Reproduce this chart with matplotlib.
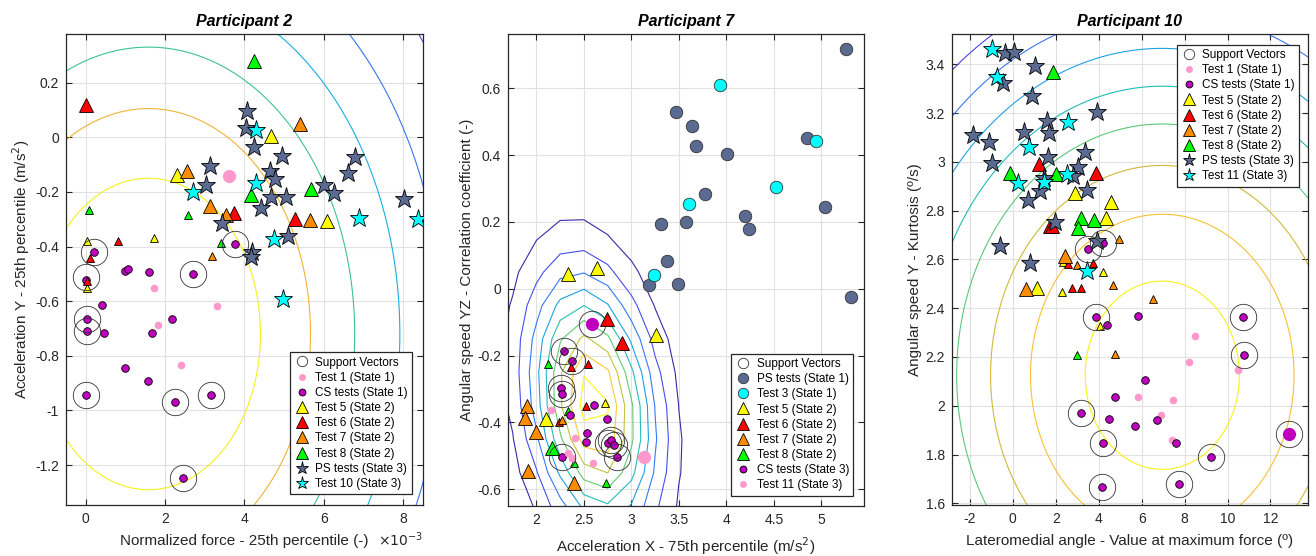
import numpy as np
import matplotlib
matplotlib.use('Agg')
import matplotlib.pyplot as plt
from matplotlib.colors import LinearSegmentedColormap
from matplotlib.ticker import FuncFormatter, FixedLocator

plt.rcParams['font.family'] = ['Liberation Sans', 'DejaVu Sans']
plt.rcParams['axes.unicode_minus'] = False

# ---------------- colours ----------------
C_YEL = '#ffff00'
C_RED = '#ff0000'
C_ORA = '#ff8c00'
C_GRN = '#00ff00'
C_SLATE = '#5a6a90'
C_CYAN = '#00ffff'
C_PURP = '#bf00bf'
C_PINK = '#ff99cc'
PARULA8 = ['#3e26a8', '#4852f4', '#2d87f7', '#11b1d6', '#37c897',
           '#abc739', '#fec338', '#f9fb14']
parula = LinearSegmentedColormap.from_list('parula', PARULA8)
P1_CONTOUR_COLORS = ['#4c4ce6', '#3a74f5', '#16aee0', '#3cc38f', '#f0b435',
                     '#f5f01e']
P3_CONTOUR_COLORS = ['#4a46e0', '#3a78f5', '#1ea2e6', '#1fbcb8', '#5cc87c',
                     '#d2b93a', '#f8c132', '#f7f21c']

# ================= Participant 2 (x in units of 1e-3) =================
P1_T1_X = [1.73, 3.30, 1.81, 2.40]
P1_T1_Y = [-0.552, -0.617, -0.686, -0.834]
P1_T1B_X = [3.60]
P1_T1B_Y = [-0.143]
P1_CS_X = [0.21, 3.77, 0.99, 1.07, 1.59, 2.71, 0.00, 0.41, 0.02, 2.17, 0.02,
           0.46, 1.66, 1.00, 1.56, 0.00, 2.24, 3.16, 2.45]
P1_CS_Y = [-0.421, -0.390, -0.490, -0.482, -0.494, -0.500, -0.521, -0.613,
           -0.665, -0.665, -0.708, -0.716, -0.717, -0.845, -0.893, -0.944,
           -0.968, -0.944, -1.249]
P1_SV_X = [0.21, 3.77, 0.00, 2.71, 0.02, 0.02, 0.00, 2.24, 3.16, 2.45]
P1_SV_Y = [-0.421, -0.390, -0.510, -0.500, -0.665, -0.708, -0.944, -0.968,
           -0.944, -1.249]
P1_T5_X = [4.66, 2.31, 6.08]
P1_T5_Y = [0.004, -0.137, -0.307]
P1_T6_X = [0.00, 3.73, 5.27]
P1_T6_Y = [0.117, -0.278, -0.298]
P1_T7_X = [5.40, 2.55, 3.12, 3.53, 5.65]
P1_T7_Y = [0.048, -0.124, -0.253, -0.286, -0.302]
P1_T8_X = [4.25, 4.17, 5.67]
P1_T8_Y = [0.279, -0.210, -0.188]
P1_T5S_X = [0.02, 1.72, 0.02]
P1_T5S_Y = [-0.380, -0.370, -0.552]
P1_T6S_X = [0.82, 0.10, 0.02]
P1_T6S_Y = [-0.378, -0.443, -0.525]
P1_T7S_X = [3.18]
P1_T7S_Y = [-0.435]
P1_T8S_X = [0.08, 2.57, 3.41]
P1_T8S_Y = [-0.265, -0.284, -0.386]
P1_PS_X = [4.07, 4.03, 4.24, 4.95, 3.14, 3.03, 4.64, 4.78, 4.66, 5.04, 4.41,
           3.44, 6.01, 6.26, 6.78, 6.60, 8.01, 5.10, 4.19, 4.17]
P1_PS_Y = [0.095, 0.034, -0.035, -0.070, -0.105, -0.174, -0.125, -0.154,
           -0.219, -0.219, -0.259, -0.314, -0.176, -0.204, -0.072, -0.131,
           -0.225, -0.362, -0.420, -0.440]
P1_T10_X = [4.30, 4.28, 2.69, 6.89, 8.37, 4.74, 4.98]
P1_T10_Y = [0.028, -0.168, -0.200, -0.295, -0.298, -0.374, -0.592]
# decision-surface model (elliptic distance) and contour radii
P1_CENTER = (1.58, -0.72)
P1_XRATIO = 4.95
P1_RADII = [0.57, 0.825, 1.05, 1.28, 1.50, 1.76]

# ================= Participant 7 =================
P2_PS_X = [5.256, 3.466, 3.638, 3.677, 4.01, 4.849, 3.78, 5.035, 4.20, 4.238,
           3.31, 3.57, 3.37, 3.19, 3.49, 5.31]
P2_PS_Y = [0.716, 0.528, 0.488, 0.426, 0.404, 0.451, 0.284, 0.245, 0.219,
           0.179, 0.195, 0.200, 0.083, 0.012, 0.015, -0.025]
P2_T3_X = [3.93, 4.94, 4.52, 3.61, 3.24]
P2_T3_Y = [0.609, 0.441, 0.304, 0.254, 0.042]
P2_T5_X = [2.33, 2.64, 3.26, 2.10]
P2_T5_Y = [0.045, 0.062, -0.138, -0.390]
P2_T6_X = [2.74, 2.90]
P2_T6_Y = [-0.091, -0.161]
P2_T7_X = [1.90, 1.88, 2.00, 1.91, 2.39]
P2_T7_Y = [-0.350, -0.387, -0.429, -0.545, -0.582]
P2_T8_X = [2.16]
P2_T8_Y = [-0.477]
P2_T5S_X = [2.72]
P2_T5S_Y = [-0.342]
P2_T6S_X = [2.36, 2.54, 2.52, 2.24]
P2_T6S_Y = [-0.233, -0.225, -0.350, -0.400]
P2_T7S_X = [2.27]
P2_T7S_Y = [-0.392]
P2_T8S_X = [2.12, 2.33, 2.40, 2.73]
P2_T8S_Y = [-0.225, -0.367, -0.522, -0.582]
P2_CS_X = [2.29, 2.37, 2.26, 2.27, 2.61, 2.35, 2.74, 2.53, 2.52, 2.75, 2.79,
           2.82, 2.27, 2.85]
P2_CS_Y = [-0.185, -0.216, -0.297, -0.315, -0.349, -0.377, -0.389, -0.432,
           -0.460, -0.462, -0.454, -0.467, -0.504, -0.502]
P2_CSB_X = [2.58]
P2_CSB_Y = [-0.105]
P2_T11_X = [2.15, 2.41, 2.33, 2.37, 2.60]
P2_T11_Y = [-0.364, -0.447, -0.490, -0.505, -0.522]
P2_T11B_X = [3.13]
P2_T11B_Y = [-0.504]
P2_SV_X = [2.58, 2.29, 2.37, 2.26, 2.27, 2.75, 2.79, 2.82, 2.85, 2.27]
P2_SV_Y = [-0.105, -0.185, -0.216, -0.297, -0.315, -0.462, -0.454, -0.467,
           -0.502, -0.504]
# probability-surface model (sheared gaussian on a coarse grid)
P2_CENTER = (2.60, -0.347)
P2_SIGMA = (0.42, 0.258)
P2_SHEAR = 0.4
P2_PEAK = 0.97
P2_LEVELS = [0.1, 0.2, 0.3, 0.4, 0.5, 0.6, 0.7, 0.8, 0.9]

# ================= Participant 10 =================
P3_T1_X = [8.47, 8.19, 10.48, 5.81, 7.44, 6.88, 7.41]
P3_T1_Y = [2.285, 2.180, 2.145, 2.036, 2.025, 1.963, 1.860]
P3_CS_X = [3.52, 4.21, 3.87, 4.40, 5.84, 10.73, 10.76, 6.15, 4.76, 3.18,
           4.47, 5.67, 6.70, 4.21, 7.60, 9.21, 7.75, 4.14]
P3_CS_Y = [2.641, 2.668, 2.363, 2.333, 2.367, 2.363, 2.209, 2.105, 2.034,
           1.970, 1.946, 1.917, 1.940, 1.848, 1.846, 1.791, 1.680, 1.666]
P3_CSB_X = [12.87]
P3_CSB_Y = [1.884]
P3_SV_X = [3.52, 4.21, 3.87, 10.73, 10.76, 3.18, 4.21, 9.21, 7.75, 4.14, 12.87]
P3_SV_Y = [2.641, 2.668, 2.363, 2.363, 2.209, 1.970, 1.848, 1.791, 1.680,
           1.666, 1.884]
P3_T5_X = [2.90, 4.56, 4.34, 1.12]
P3_T5_Y = [2.874, 2.835, 2.770, 2.484]
P3_T6_X = [1.22, 3.87, 1.73, 1.80]
P3_T6_Y = [2.989, 2.956, 2.736, 2.736]
P3_T7_X = [2.43, 0.60]
P3_T7_Y = [2.612, 2.480]
P3_T8_X = [1.86, -0.13, 2.00, 3.16, 3.78, 3.05]
P3_T8_Y = [3.370, 2.955, 2.949, 2.770, 2.760, 2.728]
P3_T5S_X = [2.33, 4.21, 2.28, 4.06]
P3_T5S_Y = [2.589, 2.547, 2.465, 2.328]
P3_T6S_X = [2.56, 3.75, 2.77, 3.18]
P3_T6S_Y = [2.582, 2.586, 2.483, 2.483]
P3_T7S_X = [3.00, 4.94, 4.68, 6.51, 4.76]
P3_T7S_Y = [2.575, 2.682, 2.496, 2.438, 2.214]
P3_T8S_X = [2.98]
P3_T8S_Y = [2.209]
P3_PS_X = [-0.39, 0.03, 1.04, -0.44, 0.88, 3.91, 1.58, -1.86, 0.54, 1.66,
           -1.13, -0.98, 1.63, 3.36, 3.05, 2.82, 1.46, 1.27, 3.44, 0.70,
           1.97, -0.59, 0.80, 3.91]
P3_PS_Y = [3.446, 3.450, 3.394, 3.323, 3.270, 3.206, 3.169, 3.110, 3.123,
           3.119, 3.082, 2.996, 3.018, 3.041, 2.979, 2.941, 2.932, 2.881,
           2.884, 2.842, 2.753, 2.654, 2.586, 2.675]
P3_T11_X = [-0.98, -0.74, 2.59, 0.77, 0.23, 1.46, 2.51, 3.44]
P3_T11_Y = [3.463, 3.347, 3.165, 3.062, 2.914, 2.918, 2.949, 2.554]
P3_CENTER = (6.96, 2.125)
P3_XRATIO = 9.3
P3_RADII = [0.386, 0.66, 0.86, 1.03, 1.185, 1.34, 1.495, 1.635]

# ---------------- figure ----------------
fig = plt.figure(figsize=(13.16, 5.56), dpi=100)
W, H = 1316, 556


def add_axes(l, r, t, b):
    return fig.add_axes([l / W, 1 - b / H, (r - l) / W, (b - t) / H])


ax1 = add_axes(66, 423, 34, 505)
ax2 = add_axes(508, 864, 34, 506)
ax3 = add_axes(951.7, 1308, 34, 505)

BIG_TRI, SMALL_TRI, STAR, DOT, BIG_DOT, SV = 10, 5.5, 14, 5.5, 9.5, 19
EC = '#000000'
MEW = 0.6


def pts(ax, x, y, marker, ms, fc, ec=EC, mew=MEW, z=3, sx=1.0):
    return ax.plot(np.asarray(x) * sx, y, ls='none', marker=marker, ms=ms,
                   mfc=fc, mec=ec, mew=mew, zorder=z)[0]


def fmt(v, p):
    return '%g' % (round(v, 6) + 0.0)


def style(ax, xlim, ylim, xticks, yticks, title, xlabel, ylabel, xfmt=None):
    ax.set_xlim(*xlim)
    ax.set_ylim(*ylim)
    ax.xaxis.set_major_locator(FixedLocator(xticks))
    ax.yaxis.set_major_locator(FixedLocator(yticks))
    ax.xaxis.set_major_formatter(xfmt or FuncFormatter(fmt))
    ax.yaxis.set_major_formatter(FuncFormatter(fmt))
    ax.grid(True, color='#e1e1e1', lw=0.8, zorder=0)
    ax.set_axisbelow(True)
    ax.tick_params(direction='in', length=4, width=0.8, top=True, right=True,
                   colors='#262626', labelsize=10, pad=5)
    for s in ax.spines.values():
        s.set_color('#262626')
        s.set_linewidth(0.9)
    ax.set_title(title, fontsize=11.5, fontweight='bold', fontstyle='italic',
                 pad=6)
    ax.set_xlabel(xlabel, fontsize=11, color='#262626', labelpad=6)
    ax.set_ylabel(ylabel, fontsize=11, color='#262626', labelpad=2)


def legend(ax, handles, labels, sizes, loc, anchor):
    leg = ax.legend(handles, labels, loc=loc, bbox_to_anchor=anchor,
                    borderaxespad=0, fontsize=8.5, fancybox=False,
                    framealpha=1, edgecolor='#262626', borderpad=0.35,
                    labelspacing=0.27, handlelength=1.3, handletextpad=0.5,
                    numpoints=1)
    leg.get_frame().set_linewidth(0.9)
    for h, s in zip(leg.legend_handles, sizes):
        h.set_markersize(s)
    leg.set_zorder(10)
    return leg


LEG_SIZES_1 = [7.5, 5, 5, 8, 8, 8, 8, 9.5, 9.5]

# ---------- panel 1 ----------
gx = np.linspace(-0.7, 8.7, 120)
gy = np.linspace(-1.45, 0.5, 120)
GX, GY = np.meshgrid(gx, gy)
Z1 = -np.sqrt(((GX - P1_CENTER[0]) / P1_XRATIO) ** 2 + (GY - P1_CENTER[1]) ** 2)
ax1.contour(GX * 1e-3, GY, Z1, levels=sorted(-np.array(P1_RADII)),
            colors=P1_CONTOUR_COLORS, linewidths=0.8, zorder=1)
s = 1e-3
h_t1 = pts(ax1, P1_T1_X, P1_T1_Y, 'o', DOT, C_PINK, ec='none', sx=s)
pts(ax1, P1_T1B_X, P1_T1B_Y, 'o', BIG_DOT, C_PINK, ec='none', sx=s)
h_cs = pts(ax1, P1_CS_X, P1_CS_Y, 'o', DOT, C_PURP, sx=s)
pts(ax1, P1_T5S_X, P1_T5S_Y, '^', SMALL_TRI, C_YEL, sx=s)
pts(ax1, P1_T6S_X, P1_T6S_Y, '^', SMALL_TRI, C_RED, sx=s)
pts(ax1, P1_T7S_X, P1_T7S_Y, '^', SMALL_TRI, C_ORA, sx=s)
pts(ax1, P1_T8S_X, P1_T8S_Y, '^', SMALL_TRI, C_GRN, sx=s)
h_t5 = pts(ax1, P1_T5_X, P1_T5_Y, '^', BIG_TRI, C_YEL, sx=s)
h_t6 = pts(ax1, P1_T6_X, P1_T6_Y, '^', BIG_TRI, C_RED, sx=s)
h_t7 = pts(ax1, P1_T7_X, P1_T7_Y, '^', BIG_TRI, C_ORA, sx=s)
h_t8 = pts(ax1, P1_T8_X, P1_T8_Y, '^', BIG_TRI, C_GRN, sx=s)
h_ps = pts(ax1, P1_PS_X, P1_PS_Y, '*', STAR, C_SLATE, sx=s)
h_t10 = pts(ax1, P1_T10_X, P1_T10_Y, '*', STAR, C_CYAN, sx=s)
h_sv = pts(ax1, P1_SV_X, P1_SV_Y, 'o', SV, 'none', ec='#333333', mew=0.6, z=4, sx=s)
style(ax1, (-0.5e-3, 8.5e-3), (-1.346, 0.378),
      [0, 2e-3, 4e-3, 6e-3, 8e-3], np.round(np.arange(-1.2, 0.21, 0.2), 1),
      'Participant 2', 'Normalized force - 25th percentile (-)',
      'Acceleration Y - 25th percentile (m/s$^2$)',
      xfmt=FuncFormatter(lambda v, p: fmt(v * 1e3, p)))
ax1.text(1.0, -0.088, r'$\times10^{-3}$', transform=ax1.transAxes,
         ha='right', va='baseline', fontsize=10, color='#262626')
legend(ax1, [h_sv, h_t1, h_cs, h_t5, h_t6, h_t7, h_t8, h_ps, h_t10],
       ['Support Vectors', 'Test 1 (State 1)', 'CS tests (State 1)',
        'Test 5 (State 2)', 'Test 6 (State 2)', 'Test 7 (State 2)',
        'Test 8 (State 2)', 'PS tests (State 3)', 'Test 10 (State 3)'],
       LEG_SIZES_1, 'lower right', (0.969, 0.023))

# ---------- panel 2 ----------
gx2 = np.arange(1.5, 5.51, 0.25)
gy2 = np.arange(-1.05, 0.86, 0.1)
GX2, GY2 = np.meshgrid(gx2, gy2)
U = (GX2 - P2_CENTER[0]) + P2_SHEAR * (GY2 - P2_CENTER[1])
V = GY2 - P2_CENTER[1]
Z2 = P2_PEAK * np.exp(-0.5 * (U / P2_SIGMA[0]) ** 2 - 0.5 * (V / P2_SIGMA[1]) ** 2)
ax2.contour(GX2, GY2, Z2, levels=P2_LEVELS, cmap=parula, linewidths=0.8, zorder=1)
h_ps2 = pts(ax2, P2_PS_X, P2_PS_Y, 'o', 9, C_SLATE, ec='#333333')
h_t3 = pts(ax2, P2_T3_X, P2_T3_Y, 'o', 9, C_CYAN, ec='#333333')
pts(ax2, P2_T5S_X, P2_T5S_Y, '^', SMALL_TRI, C_YEL)
pts(ax2, P2_T6S_X, P2_T6S_Y, '^', SMALL_TRI, C_RED)
pts(ax2, P2_T7S_X, P2_T7S_Y, '^', SMALL_TRI, C_ORA)
pts(ax2, P2_T8S_X, P2_T8S_Y, '^', SMALL_TRI, C_GRN)
h2_t5 = pts(ax2, P2_T5_X, P2_T5_Y, '^', BIG_TRI, C_YEL)
h2_t6 = pts(ax2, P2_T6_X, P2_T6_Y, '^', BIG_TRI, C_RED)
h2_t7 = pts(ax2, P2_T7_X, P2_T7_Y, '^', BIG_TRI, C_ORA)
h2_t8 = pts(ax2, P2_T8_X, P2_T8_Y, '^', BIG_TRI, C_GRN)
h2_cs = pts(ax2, P2_CS_X, P2_CS_Y, 'o', DOT, C_PURP)
pts(ax2, P2_CSB_X, P2_CSB_Y, 'o', BIG_DOT, C_PURP, ec='none')
h2_t11 = pts(ax2, P2_T11_X, P2_T11_Y, 'o', DOT, C_PINK, ec='none')
pts(ax2, P2_T11B_X, P2_T11B_Y, 'o', BIG_DOT, C_PINK, ec='none')
h2_sv = pts(ax2, P2_SV_X, P2_SV_Y, 'o', SV, 'none', ec='#333333', mew=0.6, z=4)
style(ax2, (1.70, 5.45), (-0.65, 0.762),
      [2, 2.5, 3, 3.5, 4, 4.5, 5], np.round(np.arange(-0.6, 0.61, 0.2), 1),
      'Participant 7', 'Acceleration X - 75th percentile (m/s$^2$)',
      'Angular speed YZ - Correlation coefficient (-)')
legend(ax2, [h2_sv, h_ps2, h_t3, h2_t5, h2_t6, h2_t7, h2_t8, h2_cs, h2_t11],
       ['Support Vectors', 'PS tests (State 1)', 'Test 3 (State 1)',
        'Test 5 (State 2)', 'Test 6 (State 2)', 'Test 7 (State 2)',
        'Test 8 (State 2)', 'CS tests (State 3)', 'Test 11 (State 3)'],
       [7.5, 7.5, 7.5, 8, 8, 8, 8, 5, 5], 'lower right', (0.970, 0.022))

# ---------- panel 3 ----------
gx3 = np.linspace(-3.0, 14.0, 120)
gy3 = np.linspace(1.55, 3.6, 120)
GX3, GY3 = np.meshgrid(gx3, gy3)
Z3 = -np.sqrt(((GX3 - P3_CENTER[0]) / P3_XRATIO) ** 2 + (GY3 - P3_CENTER[1]) ** 2)
ax3.contour(GX3, GY3, Z3, levels=sorted(-np.array(P3_RADII)),
            colors=P3_CONTOUR_COLORS, linewidths=0.8, zorder=1)
h3_t1 = pts(ax3, P3_T1_X, P3_T1_Y, 'o', DOT, C_PINK, ec='none')
h3_cs = pts(ax3, P3_CS_X, P3_CS_Y, 'o', DOT, C_PURP)
pts(ax3, P3_CSB_X, P3_CSB_Y, 'o', BIG_DOT, C_PURP, ec='none')
pts(ax3, P3_T5S_X, P3_T5S_Y, '^', SMALL_TRI, C_YEL)
pts(ax3, P3_T6S_X, P3_T6S_Y, '^', SMALL_TRI, C_RED)
pts(ax3, P3_T7S_X, P3_T7S_Y, '^', SMALL_TRI, C_ORA)
pts(ax3, P3_T8S_X, P3_T8S_Y, '^', SMALL_TRI, C_GRN)
h3_t5 = pts(ax3, P3_T5_X, P3_T5_Y, '^', BIG_TRI, C_YEL)
h3_t6 = pts(ax3, P3_T6_X, P3_T6_Y, '^', BIG_TRI, C_RED)
h3_t7 = pts(ax3, P3_T7_X, P3_T7_Y, '^', BIG_TRI, C_ORA)
h3_t8 = pts(ax3, P3_T8_X, P3_T8_Y, '^', BIG_TRI, C_GRN)
h3_ps = pts(ax3, P3_PS_X, P3_PS_Y, '*', STAR, C_SLATE)
h3_t11 = pts(ax3, P3_T11_X, P3_T11_Y, '*', STAR, C_CYAN)
h3_sv = pts(ax3, P3_SV_X, P3_SV_Y, 'o', SV, 'none', ec='#333333', mew=0.6, z=4)
style(ax3, (-2.85, 13.75), (1.593, 3.524),
      list(range(-2, 13, 2)), np.round(np.arange(1.6, 3.41, 0.2), 1),
      'Participant 10', 'Lateromedial angle - Value at maximum force (º)',
      'Angular speed Y - Kurtosis (º/s)')
legend(ax3, [h3_sv, h3_t1, h3_cs, h3_t5, h3_t6, h3_t7, h3_t8, h3_ps, h3_t11],
       ['Support Vectors', 'Test 1 (State 1)', 'CS tests (State 1)',
        'Test 5 (State 2)', 'Test 6 (State 2)', 'Test 7 (State 2)',
        'Test 8 (State 2)', 'PS tests (State 3)', 'Test 11 (State 3)'],
       LEG_SIZES_1, 'upper right', (0.975, 0.977))

fig.savefig('out.png', dpi=100)
